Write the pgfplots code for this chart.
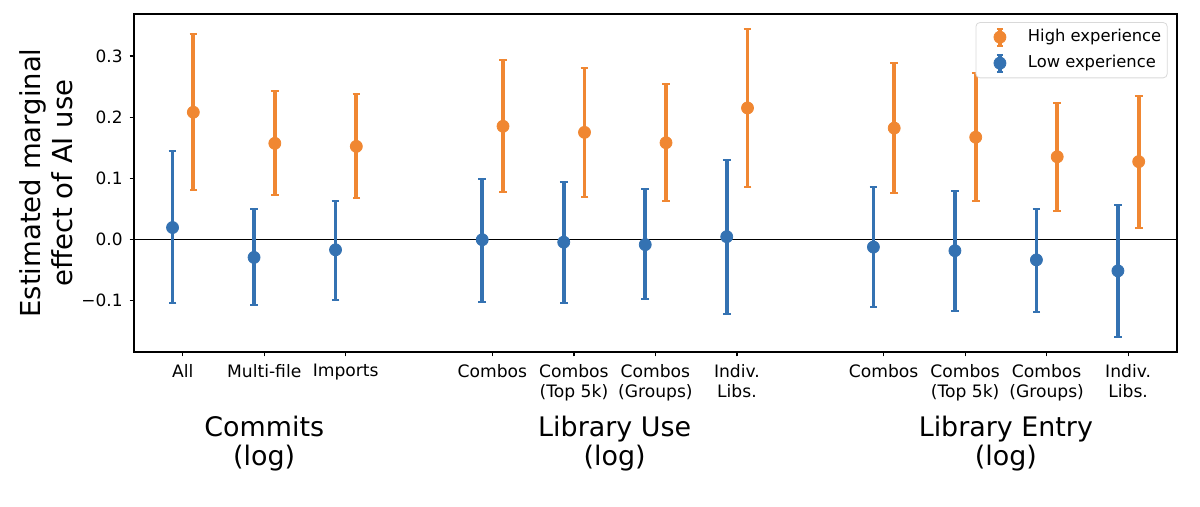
\documentclass[border=0pt]{standalone}
\usepackage{fontspec}
\setmainfont{DejaVu Sans}
\usepackage{pgfplots}
\usepackage{pgfplotstable}
\pgfplotsset{compat=1.18}
\definecolor{hiC}{RGB}{240,135,50}
\definecolor{loC}{RGB}{52,114,178}

\pgfplotstableread{
x     y       ep     em
0     0.019   0.126  0.124
1    -0.030   0.079  0.078
2    -0.0175  0.0805 0.0815
3.8  -0.001   0.100  0.102
4.8  -0.005   0.099  0.099
5.8  -0.009   0.091  0.089
6.8   0.004   0.126  0.126
8.6  -0.013   0.099  0.099
9.6  -0.019   0.098  0.098
10.6 -0.034   0.084  0.085
11.6 -0.052   0.108  0.109
}\lowtab

\pgfplotstableread{
x     y       ep     em
0     0.208   0.129  0.127
1     0.157   0.085  0.084
2     0.152   0.086  0.085
3.8   0.185   0.108  0.107
4.8   0.175   0.106  0.106
5.8   0.158   0.097  0.096
6.8   0.215   0.129  0.129
8.6   0.182   0.107  0.106
9.6   0.167   0.105  0.104
10.6  0.135   0.088  0.089
11.6  0.127   0.108  0.108
}\hightab

\newcommand{\legimg}[1]{%
  \path[draw=none, fill=none] (0bp,-5bp) rectangle (23bp,5bp);
  \draw[#1, line width=1.6bp] (11bp,-4.2bp) -- (11bp,4.2bp);
  \draw[#1, line width=1bp] (9.5bp,-4.2bp) -- (12.5bp,-4.2bp) (9.5bp,4.2bp) -- (12.5bp,4.2bp);
  \fill[#1] (11bp,0bp) circle (3bp);}

\begin{document}
\begin{tikzpicture}
\begin{axis}[
  at={(0,0)}, anchor=south west,
  scale only axis, width=521.5bp, height=169bp,
  xmin=-0.598, xmax=12.2, ymin=-0.185, ymax=0.369,
  clip=false,
  axis line style={line width=1.2bp},
  tick align=outside, major tick length=2.2bp,
  tick style={black, line width=0.6bp},
  xtick pos=left, ytick pos=left,
  xtick={0,1,2,3.8,4.8,5.8,6.8,8.6,9.6,10.6,11.6},
  xticklabels={All, Multi-file, Imports, Combos, Combos\\(Top 5k), Combos\\(Groups), Indiv.\\Libs., Combos, Combos\\(Top 5k), Combos\\(Groups), Indiv.\\Libs.},
  xticklabel style={align=center, font=\fontsize{8.6}{10}\selectfont, yshift=-0.5bp},
  ytick={-0.1,0,0.1,0.2,0.3},
  yticklabels={−0.1,0.0,0.1,0.2,0.3},
  yticklabel style={font=\fontsize{8.5}{10}\selectfont},
  ylabel={Estimated marginal\\effect of AI use},
  ylabel style={align=center, font=\fontsize{13.8}{16}\selectfont, at={(axis description cs:-0.0844,0.5)}, anchor=center},
  legend style={at={(0.991,0.976)}, anchor=north east, draw=black!15, rounded corners=2bp,
    font=\fontsize{8.2}{9.8}\selectfont, row sep=1.3bp, inner xsep=1bp, inner ysep=1.5bp,
    column sep=0bp},
  legend cell align=left,
]
\addplot[black, line width=0.6bp, forget plot] coordinates {(-0.598,0) (12.2,0)};

\addplot[only marks, mark=*, mark size=3bp, color=hiC, mark options={fill=hiC, draw=hiC},
  legend image code/.code={\legimg{hiC}},
  error bars/.cd, y dir=both, y explicit,
  error bar style={line width=1.9bp, color=hiC},
  error mark options={rotate=90, mark size=1.9bp, line width=1bp, color=hiC}]
  table[x expr=\thisrow{x}+0.13, y=y, y error plus=ep, y error minus=em] {\hightab};
\addlegendentry{High experience}

\addplot[only marks, mark=*, mark size=3bp, color=loC, mark options={fill=loC, draw=loC},
  legend image code/.code={\legimg{loC}},
  error bars/.cd, y dir=both, y explicit,
  error bar style={line width=1.9bp, color=loC},
  error mark options={rotate=90, mark size=1.9bp, line width=1bp, color=loC}]
  table[x expr=\thisrow{x}-0.125, y=y, y error plus=ep, y error minus=em] {\lowtab};
\addlegendentry{Low experience}

\node[anchor=base, font=\fontsize{13.5}{15}\selectfont] at (axis cs:1,-0.3236) {Commits};
\node[anchor=base, font=\fontsize{13.5}{15}\selectfont] at (axis cs:1,-0.371) {(log)};
\node[anchor=base, font=\fontsize{13.5}{15}\selectfont] at (axis cs:5.3,-0.3236) {Library Use};
\node[anchor=base, font=\fontsize{13.5}{15}\selectfont] at (axis cs:5.3,-0.371) {(log)};
\node[anchor=base, font=\fontsize{13.5}{15}\selectfont] at (axis cs:10.1,-0.3236) {Library Entry};
\node[anchor=base, font=\fontsize{13.5}{15}\selectfont] at (axis cs:10.1,-0.371) {(log)};
\end{axis}
\pgfresetboundingbox
\path[use as bounding box] (-67bp,-77.5bp) rectangle (533bp,176bp);
\end{tikzpicture}
\end{document}
